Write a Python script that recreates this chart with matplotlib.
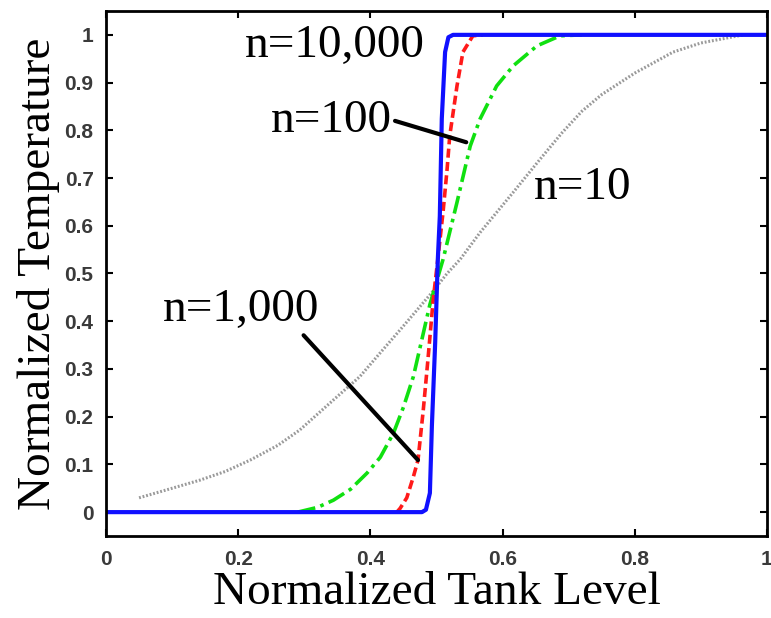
import numpy as np
import matplotlib.pyplot as plt

# curves (normalized tank level -> normalized temperature)
x_n10 = [0.05, 0.10, 0.142, 0.18, 0.218, 0.26, 0.293, 0.344, 0.384, 0.415,
         0.445, 0.493, 0.516, 0.536, 0.566, 0.616, 0.657, 0.69, 0.72, 0.75,
         0.80, 0.858, 0.90, 0.949, 0.965]
y_n10 = [0.03, 0.05, 0.067, 0.085, 0.109, 0.14, 0.172, 0.235, 0.284, 0.334,
         0.382, 0.46, 0.50, 0.53, 0.586, 0.67, 0.74, 0.795, 0.84, 0.875,
         0.92, 0.964, 0.983, 0.996, 1.0]

x_n100 = [0.29, 0.32, 0.344, 0.37, 0.395, 0.415, 0.435, 0.45, 0.465, 0.49,
          0.51, 0.531, 0.551, 0.566, 0.591, 0.616, 0.652, 0.687, 0.72]
y_n100 = [0.0, 0.01, 0.025, 0.048, 0.082, 0.115, 0.166, 0.22, 0.284, 0.435,
          0.53, 0.649, 0.767, 0.824, 0.893, 0.935, 0.977, 0.998, 1.0]

x_n1000 = [0.44, 0.445, 0.455, 0.465, 0.472, 0.48, 0.487, 0.495, 0.502, 0.51,
           0.516, 0.52, 0.531, 0.54, 0.555, 0.57]
y_n1000 = [0.0, 0.008, 0.03, 0.074, 0.109, 0.214, 0.319, 0.445, 0.53, 0.63,
           0.718, 0.788, 0.893, 0.964, 0.998, 1.0]

x_n10000 = [0.0, 0.478, 0.484, 0.49, 0.493, 0.498, 0.502, 0.505, 0.508,
            0.513, 0.518, 0.525, 1.0]
y_n10000 = [0.0, 0.0, 0.005, 0.04, 0.18, 0.355, 0.53, 0.62, 0.824,
            0.964, 0.995, 1.0, 1.0]

x_ticks = [0, 0.2, 0.4, 0.6, 0.8, 1]
x_tick_labels = ['0', '0.2', '0.4', '0.6', '0.8', '1']
y_ticks = [0, 0.1, 0.2, 0.3, 0.4, 0.5, 0.6, 0.7, 0.8, 0.9, 1]
y_tick_labels = ['0', '0.1', '0.2', '0.3', '0.4', '0.5', '0.6', '0.7', '0.8', '0.9', '1']

labels = ['n=10', 'n=100', 'n=1,000', 'n=10,000']

plt.rcParams['font.family'] = ['Liberation Serif', 'DejaVu Serif']

fig = plt.figure(figsize=(7.71, 6.18), dpi=100)
ax = fig.add_axes([0.1375, 0.1327, 0.8573, 0.8495])

ax.plot(x_n10, y_n10, color='#9a9a9a', lw=2.2, ls=(0, (0.6, 0.6)))
ax.plot(x_n100, y_n100, color='#10e010', lw=2.6, ls=(0, (5, 1.5, 1, 1.5)))
ax.plot(x_n1000, y_n1000, color='#ff1a1a', lw=2.6, ls=(0, (2.5, 1.2)))
ax.plot(x_n10000, y_n10000, color='#1010ff', lw=3.0)

ax.set_xlim(0, 1)
ax.set_ylim(-0.05, 1.05)
tick_font = dict(family='Liberation Sans', size=15, weight='bold', color='#3a3a3a')
ax.set_xticks(x_ticks)
ax.set_xticklabels(x_tick_labels, fontdict=tick_font)
ax.set_yticks(y_ticks)
ax.set_yticklabels(y_tick_labels, fontdict=tick_font)
ax.tick_params(direction='in', length=5, width=1.5, top=True, right=True)
ax.tick_params(axis='x', pad=10)
ax.tick_params(axis='y', pad=9)
for sp in ax.spines.values():
    sp.set_linewidth(2)

ax.set_xlabel('Normalized Tank Level', fontsize=34, labelpad=2)
ax.set_ylabel('Normalized Temperature', fontsize=34, labelpad=3)

# curve labels with pointer lines
ax.text(0.21, 0.977, labels[3], fontsize=34, ha='left', va='center')
ax.annotate(labels[1], xy=(0.545, 0.775), xytext=(0.25, 0.82),
            fontsize=34, ha='left', va='center',
            arrowprops=dict(arrowstyle='-', lw=3, color='black',
                            shrinkA=0, shrinkB=0, relpos=(1.02, 0.5)))
ax.text(0.648, 0.68, labels[0], fontsize=34, ha='left', va='center')
ax.annotate(labels[2], xy=(0.472, 0.109), xytext=(0.086, 0.424),
            fontsize=34, ha='left', va='center',
            arrowprops=dict(arrowstyle='-', lw=3, color='black',
                            shrinkA=0, shrinkB=0, relpos=(0.9, -0.1)))

fig.savefig('out.png', dpi=100)
